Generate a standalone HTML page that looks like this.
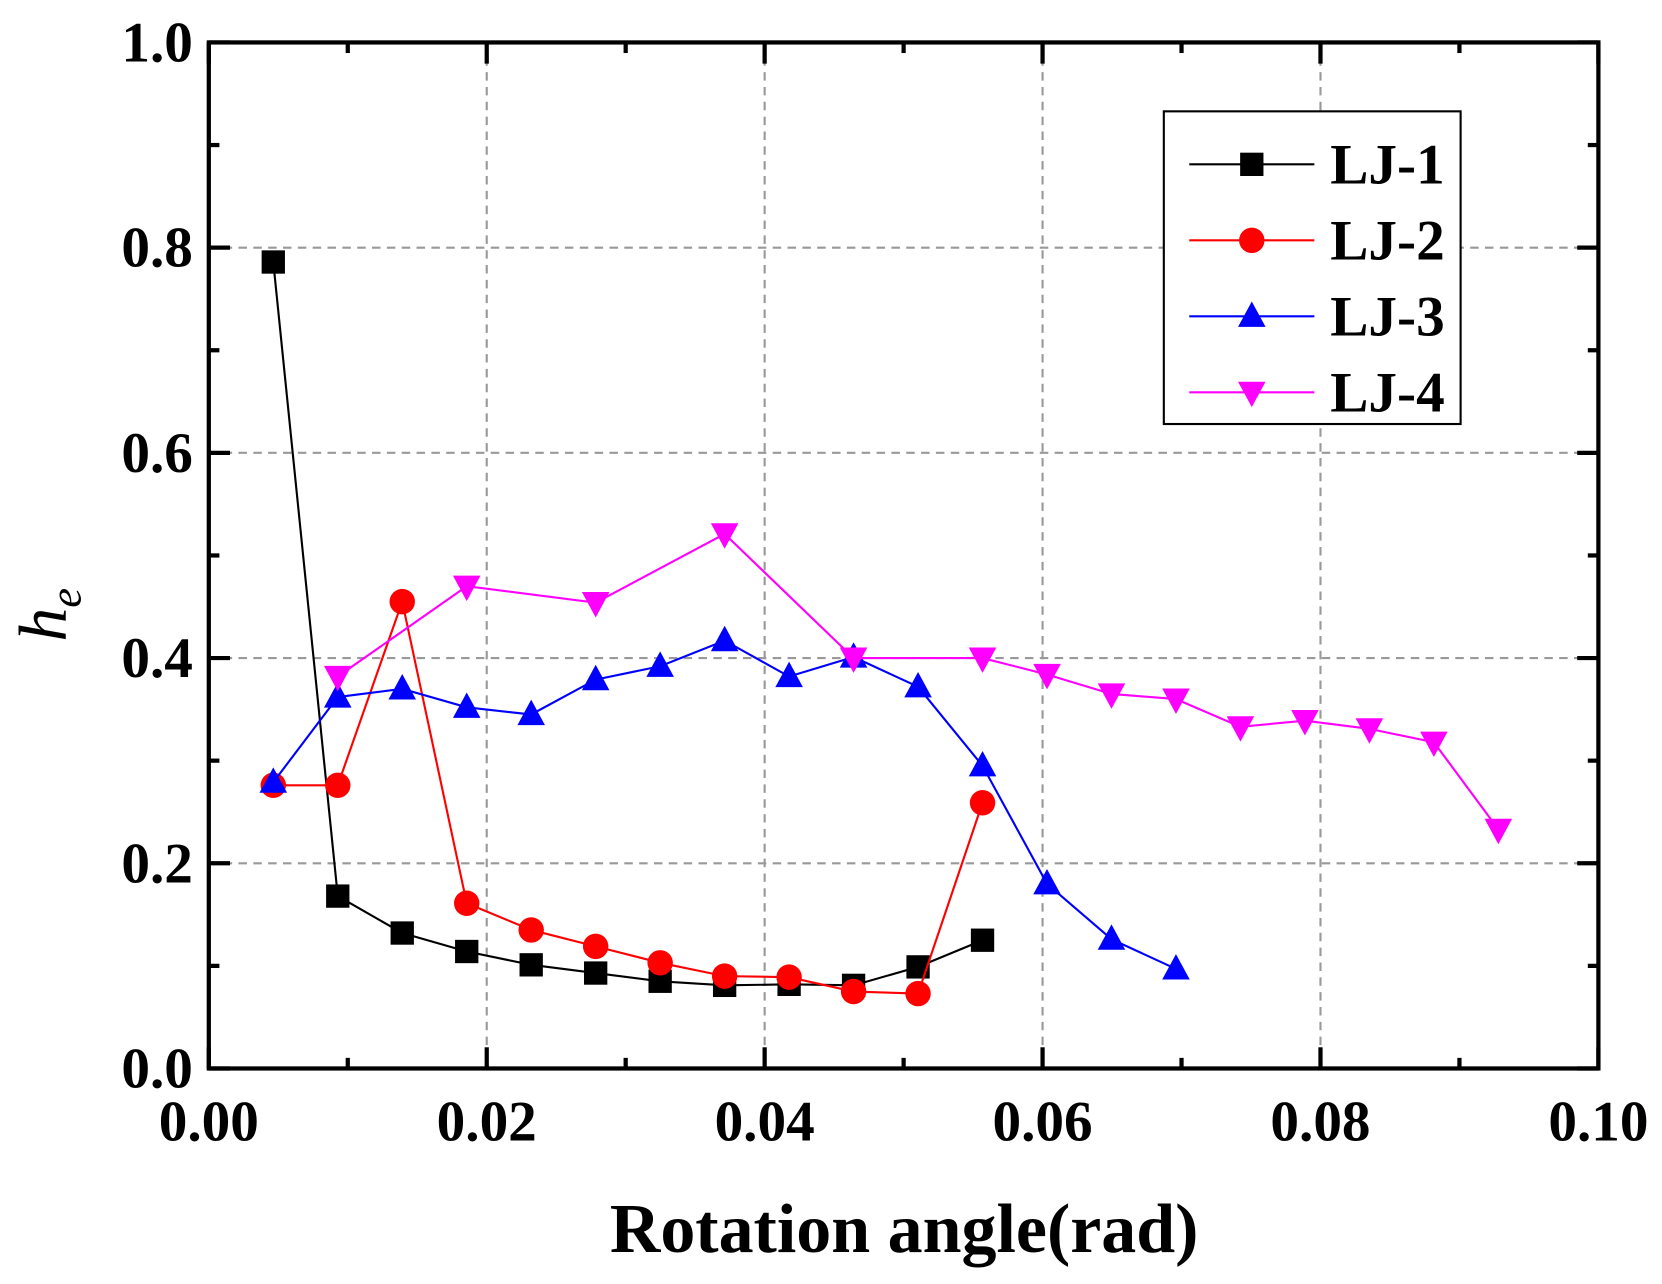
<!DOCTYPE html>
<html><head><style>body{margin:0;background:#fff}svg{display:block}</style></head><body>
<svg width="1662" height="1284" viewBox="0 0 1568 1211.3" xmlns="http://www.w3.org/2000/svg" font-family="Liberation Serif, serif" font-weight="bold">
<g id="plot"></g>
</svg>
<script>
const L=197,R=1508,T=40,B=1008;
const X=v=>L+v/0.1*(R-L), Y=v=>B-v*(B-T);
let s='';
for(const v of [0.02,0.04,0.06,0.08]) s+=`<line x1="${X(v)}" y1="${T}" x2="${X(v)}" y2="${B}" stroke="#999" stroke-width="2" stroke-dasharray="8,6"/>`;
for(const v of [0.2,0.4,0.6,0.8]) s+=`<line x1="${L}" y1="${Y(v)}" x2="${R}" y2="${Y(v)}" stroke="#999" stroke-width="2" stroke-dasharray="8,6"/>`;
for(let i=0;i<=10;i++){const x=X(i*0.01),len=i%2?10:20;
 s+=`<line x1="${x}" y1="${B}" x2="${x}" y2="${B-len}" stroke="#000" stroke-width="4"/><line x1="${x}" y1="${T}" x2="${x}" y2="${T+len}" stroke="#000" stroke-width="4"/>`;
 if(i%2==0) s+=`<text x="${x}" y="${B+68}" font-size="54" text-anchor="middle">${(i*0.01).toFixed(2)}</text>`;}
for(let i=0;i<=10;i++){const y=Y(i*0.1),len=i%2?10:20;
 s+=`<line x1="${L}" y1="${y}" x2="${L+len}" y2="${y}" stroke="#000" stroke-width="4"/><line x1="${R}" y1="${y}" x2="${R-len}" y2="${y}" stroke="#000" stroke-width="4"/>`;
 if(i%2==0) s+=`<text x="182" y="${y+18}" font-size="54" text-anchor="end">${(i*0.1).toFixed(1)}</text>`;}
s+=`<rect x="${L}" y="${T}" width="${R-L}" height="${B-T}" fill="none" stroke="#000" stroke-width="4"/>`;
const dx=0.00464;
const ser=[
 {c:'#000',m:'sq',pts:[0.786,0.168,0.132,0.114,0.101,0.093,0.085,0.081,0.082,0.081,0.099,0.125].map((v,i)=>[(i+1)*dx,v])},
 {c:'#f00',m:'ci',pts:[0.276,0.276,0.455,0.161,0.135,0.119,0.103,0.09,0.089,0.075,0.073,0.259].map((v,i)=>[(i+1)*dx,v])},
 {c:'#00f',m:'tu',pts:[0.279,0.362,0.37,0.352,0.345,0.379,0.392,0.417,0.382,0.401,0.372,0.295,0.18,0.126,0.097].map((v,i)=>[(i+1)*dx,v])},
 {c:'#f0f',m:'td',pts:[[2,0.382],[4,0.47],[6,0.454],[8,0.521],[10,0.4],[12,0.4],[13,0.384],[14,0.365],[15,0.36],[16,0.333],[17,0.339],[18,0.331],[19,0.318],[20,0.233]].map(p=>[p[0]*dx,p[1]])}
];
function mk(m,x,y,c){
 if(m=='sq')return `<rect x="${x-11}" y="${y-11}" width="22" height="22" fill="${c}"/>`;
 if(m=='ci')return `<circle cx="${x}" cy="${y}" r="12" fill="${c}"/>`;
 if(m=='tu')return `<polygon points="${x},${y-14} ${x+13},${y+10} ${x-13},${y+10}" fill="${c}"/>`;
 return `<polygon points="${x},${y+14} ${x+13},${y-10} ${x-13},${y-10}" fill="${c}"/>`;}
for(const sr of ser){
 s+=`<polyline points="${sr.pts.map(p=>X(p[0])+','+Y(p[1])).join(' ')}" fill="none" stroke="${sr.c}" stroke-width="2"/>`;
 for(const p of sr.pts) s+=mk(sr.m,X(p[0]),Y(p[1]),sr.c);}
s+=`<rect x="1098" y="105" width="280" height="295" fill="#fff" stroke="#000" stroke-width="2"/>`;
ser.forEach((sr,i)=>{const y=155+i*71.7;
 s+=`<line x1="1122" y1="${y}" x2="1240" y2="${y}" stroke="${sr.c}" stroke-width="2"/>`+mk(sr.m,1181,y,sr.c)+
 `<text x="1255" y="${y+18}" font-size="54">LJ-${i+1}</text>`;});
s+=`<text x="853" y="1181" font-size="66" text-anchor="middle">Rotation angle(rad)</text>`;
s+=`<text transform="translate(62,580) rotate(-90)" font-size="64" text-anchor="middle" font-style="italic" font-weight="normal">h<tspan font-size="42" dy="14">e</tspan></text>`;
document.getElementById('plot').innerHTML=s;
</script>
</body></html>
